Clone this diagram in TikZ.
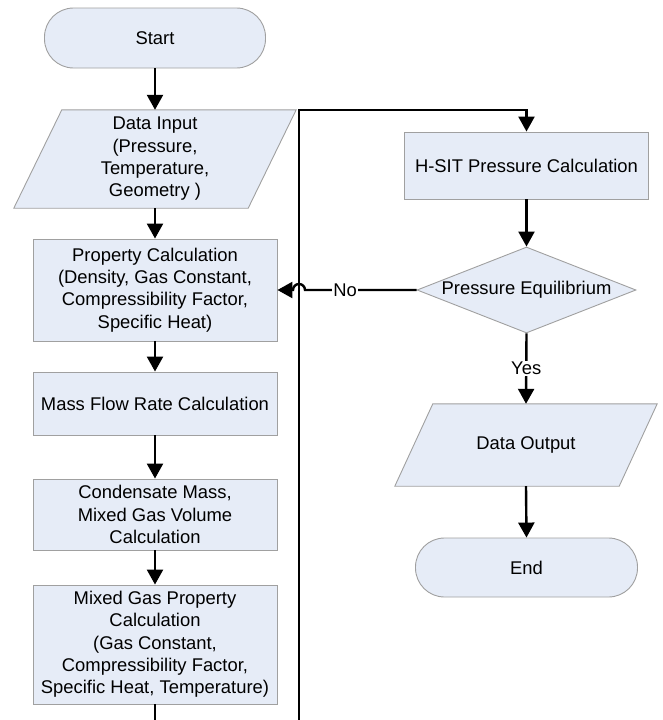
\documentclass[tikz,border=0pt]{standalone}
\usepackage{fontspec}
\setmainfont{Liberation Sans}
\usetikzlibrary{arrows.meta,shapes.geometric,backgrounds,calc}
\definecolor{boxfill}{RGB}{230,236,247}
\definecolor{boxline}{RGB}{160,160,160}
\begin{document}
\begin{tikzpicture}[x=1pt,y=-1pt,
  every node/.style={font=\fontsize{18.4}{22.3}\selectfont, align=center, text=black},
  proc/.style={draw=boxline, line width=0.9pt, fill=boxfill, minimum width=244pt, inner sep=0pt},
  term/.style={draw=boxline, line width=0.9pt, fill=boxfill, rounded corners=29pt, inner sep=0pt},
  iobox/.style={inner sep=0pt},
  iofill/.style={draw=boxline, line width=0.9pt, fill=boxfill},
  dec/.style={draw=boxline, line width=0.9pt, fill=boxfill, diamond, aspect=2.55, inner sep=0pt, minimum width=219pt, minimum height=86pt},
  flow/.style={line width=2.4pt, draw=black},
  arr/.style={flow, -{Triangle[width=16pt,length=15pt]}},
  lbl/.style={fill=white, inner sep=1pt}
]
\useasboundingbox (0,0) rectangle (662,720);

% left column
\node[term, minimum width=221pt, minimum height=60pt] (start) at (155,38) {Start};
\node[iobox, minimum width=282pt, minimum height=98pt] (din) at (155,159) {Data Input\\(Pressure,\\Temperature,\\Geometry )};
\node[proc, minimum height=102pt] (prop) at (155,290) {Property Calculation\\(Density, Gas Constant,\\Compressibility Factor,\\Specific Heat)};
\node[proc, minimum height=63pt] (mass) at (155,403.5) {Mass Flow Rate Calculation};
\node[proc, minimum height=71pt] (cond) at (155,514.5) {Condensate Mass,\\Mixed Gas Volume\\Calculation};
\node[proc, minimum height=119pt] (mixed) at (155,644.5) {Mixed Gas Property\\Calculation\\(Gas Constant,\\Compressibility Factor,\\Specific Heat, Temperature)};

% right column
\node[proc, minimum height=67pt] (hsit) at (526.5,165.5) {H-SIT Pressure Calculation};
\node[dec] (eq) at (526.5,290) {Pressure Equilibrium};
\node[iobox, minimum width=262pt, minimum height=82pt] (dout) at (526,445) {Data Output};
\node[term, minimum width=222pt, minimum height=59pt] (endn) at (526.5,567.5) {End};

\begin{scope}[on background layer]
  \draw[iofill] ([xshift=48pt]din.north west) -- (din.north east) -- ([xshift=-48pt]din.south east) -- (din.south west) -- cycle;
  \draw[iofill] ([xshift=38pt]dout.north west) -- (dout.north east) -- ([xshift=-38pt]dout.south east) -- (dout.south west) -- cycle;
\end{scope}

% connectors
\draw[arr] (start.south) -- (din.north);
\draw[arr] (din.south) -- (prop.north);
\draw[arr] (prop.south) -- (mass.north);
\draw[arr] (mass.south) -- (cond.north);
\draw[arr] (cond.south) -- (mixed.north);
\coordinate (lb) at (155,720);
\draw[flow] (mixed.south) -- (lb);

\coordinate (rb) at (299,720);
\coordinate (tc) at (299,110);
\draw[arr] (rb) -- (tc) -| (hsit.north);

\draw[arr] (hsit.south) -- (eq.north);
\draw[arr] (eq.south) -- node[lbl]{Yes} (dout.north);
\draw[arr] (dout.south) -- (endn.north);

\draw[arr] (eq.west) -- node[lbl, pos=0.64]{No} ($(tc|-eq.west)+(6pt,0)$) arc[start angle=0, end angle=180, radius=6pt] -- (prop.east);
\end{tikzpicture}
\end{document}
